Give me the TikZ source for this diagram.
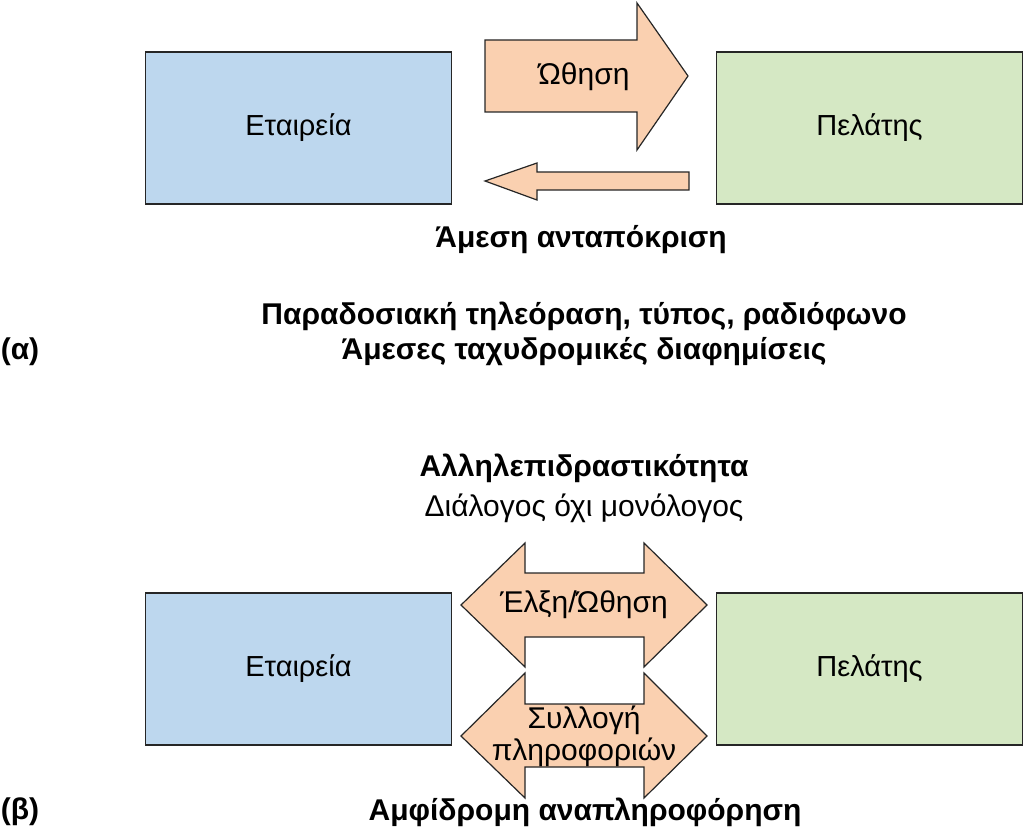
\documentclass[tikz,border=0pt]{standalone}
\usepackage{fontspec}
\setmainfont{Liberation Sans}
\definecolor{firmblue}{HTML}{BDD7EE}
\definecolor{clientgreen}{HTML}{D5E8C4}
\definecolor{flowpeach}{HTML}{FAD0B0}
\begin{document}
\begin{tikzpicture}[x=1pt,y=-1pt,line width=1.2pt]
\tikzstyle{party}=[draw=black!85,minimum width=306pt,minimum height=152pt,inner sep=0pt,font=\fontsize{29}{34}\selectfont]
\tikzstyle{firm}=[party,fill=firmblue]
\tikzstyle{client}=[party,fill=clientgreen]
\tikzstyle{flow}=[draw=black!85,fill=flowpeach,line join=miter]
\tikzstyle{lbl}=[font=\fontsize{30}{34}\selectfont,align=center]
\tikzstyle{head}=[font=\bfseries\fontsize{30}{35}\selectfont,align=center]
\useasboundingbox (0,0) rectangle (1024,837);

% Part (a)
\node[firm] (F1) at (298.5,128) {Εταιρεία};
\node[client] (C1) at (869.5,128) {Πελάτης};
\draw[flow] (485,40) -- (637,40) -- (637,3) -- (688,76) -- (637,150) -- (637,112) -- (485,112) -- cycle;
\node[lbl] (push) at (584,77) {Ώθηση};
\draw[flow] (689,172) -- (537,172) -- (537,163) -- (485,181) -- (537,200) -- (537,190) -- (689,190) -- cycle;
\node[head] (resp) at (581,240) {Άμεση ανταπόκριση};
\node[head] (media) at (584,334) {Παραδοσιακή τηλεόραση, τύπος, ραδιόφωνο\\Άμεσες ταχυδρομικές διαφημίσεις};
\node[head] (a) at (20,352) {(α)};

% Part (b)
\node[head] (inter) at (584,468) {Αλληλεπιδραστικότητα};
\node[lbl] (dial) at (584,508) {Διάλογος όχι μονόλογος};
\node[firm] (F2) at (298.5,669) {Εταιρεία};
\node[client] (C2) at (869.5,669) {Πελάτης};
\draw[flow] (461,605) -- (525,543) -- (525,573) -- (644,573) -- (644,543) -- (707,605) -- (644,667) -- (644,637) -- (525,637) -- (525,667) -- cycle;
\draw[flow] (461,736) -- (525,673) -- (525,704) -- (644,704) -- (644,673) -- (707,736) -- (644,798) -- (644,767) -- (525,767) -- (525,798) -- cycle;
\node[lbl] (pull) at (584,605) {Έλξη/Ώθηση};
\node[lbl,inner sep=0pt] (info) at (584,736) {Συλλογή\\[-2pt]πληροφοριών};
\node[head] (feed) at (585,812) {Αμφίδρομη αναπληροφόρηση};
\node[head] (b) at (20,812) {(β)};
\end{tikzpicture}
\end{document}
